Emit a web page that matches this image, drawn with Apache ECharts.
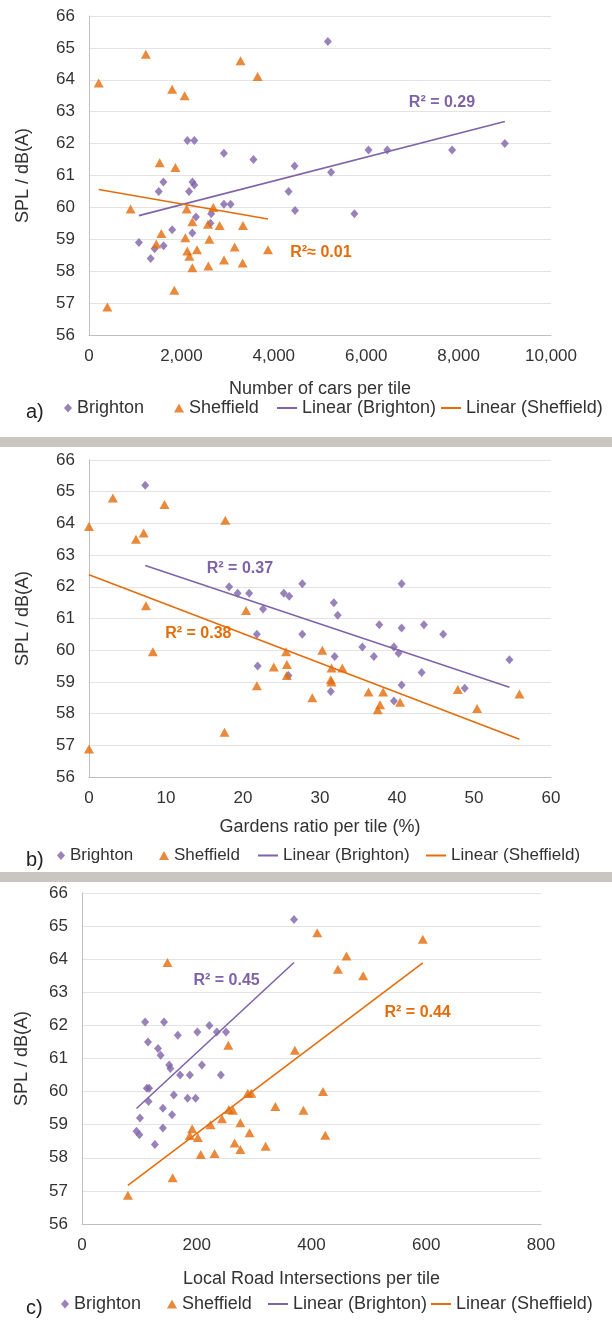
<!DOCTYPE html>
<html><head><meta charset="utf-8">
<script src="https://cdn.jsdelivr.net/npm/echarts@6/dist/echarts.min.js"></script>
<style>html,body{margin:0;padding:0;background:#fff}#c{width:612px;height:1320px}</style>
</head><body><div id="c"></div><script>
// ---------- DATA ----------
// Panel a: Number of cars per tile vs SPL
const carsBrighton = [[5170,65.2],[2130,62.1],[2280,62.1],[2920,61.7],[3560,61.5],[4450,61.3],[5240,61.1],[6050,61.8],[6455,61.8],[7860,61.8],[9000,62.0],[4320,60.5],[1610,60.8],[1510,60.5],[2240,60.8],[2280,60.7],[2165,60.5],[2920,60.1],[3065,60.1],[2315,59.7],[2645,59.8],[2630,59.5],[1800,59.3],[2237,59.2],[1080,58.9],[1615,58.8],[1420,58.7],[1335,58.4],[4460,59.9],[5745,59.8]];
const carsSheffield = [[210,63.9],[1230,64.8],[1800,63.7],[2070,63.5],[3280,64.6],[3650,64.1],[1530,61.4],[1870,61.25],[900,59.95],[2115,59.95],[2690,60.0],[2237,59.55],[2576,59.47],[2828,59.43],[3333,59.43],[1566,59.18],[2085,59.05],[2605,59.0],[1457,58.85],[3153,58.76],[2128,58.63],[2338,58.67],[2172,58.47],[3874,58.67],[2922,58.35],[3326,58.26],[2237,58.11],[2583,58.16],[1847,57.4],[397,56.88]];
// Panel b: Gardens ratio per tile (%) vs SPL
const gardensBrighton = [[7.3,65.2],[18.2,62.0],[19.3,61.8],[20.8,61.8],[22.6,61.3],[25.3,61.8],[26.0,61.7],[27.7,62.1],[31.8,61.5],[32.3,61.1],[40.6,62.1],[21.8,60.5],[27.7,60.5],[21.9,59.5],[25.9,59.2],[31.9,59.8],[31.4,58.7],[35.5,60.1],[37.0,59.8],[37.7,60.8],[39.6,60.1],[40.2,59.9],[40.6,60.7],[43.5,60.8],[43.2,59.3],[46.0,60.5],[40.6,58.9],[39.6,58.4],[48.8,58.8],[54.6,59.7]];
const gardensSheffield = [[0,63.9],[3.1,64.8],[6.1,63.5],[7.1,63.7],[9.8,64.6],[17.7,64.1],[7.4,61.4],[20.4,61.25],[30.3,60.0],[8.3,59.95],[25.6,59.95],[25.7,59.55],[24.0,59.47],[31.5,59.44],[32.9,59.44],[25.7,59.2],[31.4,59.07],[31.5,59.0],[21.8,58.88],[47.9,58.76],[36.3,58.68],[38.2,58.68],[55.9,58.62],[29.0,58.5],[40.4,58.36],[37.8,58.28],[50.4,58.16],[37.5,58.12],[17.6,57.41],[0,56.88]];
// Panel c: Local Road Intersections per tile vs SPL
const roadsBrighton = [[369.5,65.2],[110,62.1],[143,62.1],[222,62.0],[167,61.7],[201,61.8],[235,61.8],[251,61.8],[115,61.5],[132.5,61.3],[137,61.1],[152,60.8],[154,60.7],[209,60.8],[171,60.5],[188,60.5],[242,60.5],[113,60.1],[117,60.1],[116,59.7],[160,59.9],[184,59.8],[198,59.8],[141,59.5],[157,59.3],[101,59.2],[141,58.9],[95,58.8],[100,58.7],[127,58.4]];
const roadsSheffield = [[410,64.8],[594,64.6],[461,64.1],[149,63.9],[446,63.7],[490,63.5],[255,61.4],[371,61.25],[420,60.0],[289,59.95],[295,59.95],[337,59.55],[256,59.46],[263,59.44],[386,59.44],[244,59.18],[276,59.06],[224,59.0],[192,58.88],[292,58.76],[188,58.67],[424,58.68],[202,58.61],[266,58.45],[320,58.35],[276,58.25],[231,58.13],[207,58.1],[158,57.4],[80,56.87]];

const xAxisNames = ['Number of cars per tile','Gardens ratio per tile (%)','Local Road Intersections per tile'];
const xAxisMax = [10000, 60, 800];
const xAxisInterval = [2000, 10, 200];
const yAxisName = 'SPL / dB(A)';
const panelTags = ['a)','b)','c)'];
const legendNames = ['Brighton','Sheffield','Linear (Brighton)','Linear (Sheffield)'];
const r2Texts = [['R² = 0.29','R²≈ 0.01'],['R² = 0.37','R² = 0.38'],['R² = 0.45','R² = 0.44']];
// where the R² annotations sit, in data coordinates [x, SPL]
const r2Anchors = [[[7640,63.3],[5020,58.57]],[[19.6,62.56],[14.2,60.51]],[[252,63.34],[585,62.4]]];

// ---------- LAYOUT / STYLE ----------
const PURPLE = '#7F63A8', ORANGE = '#E46C0A';
const FONT = 'Liberation Sans, Arial, sans-serif';
const TXT = '#333';
const grids = [
  {left:89, top:16, width:462, height:319},
  {left:89, top:460, width:462, height:317},
  {left:82, top:893, width:459, height:331}
];
const legendY = [410, 858, 1306];
const legendLeft = [[64,174,277,441],[57,159,258,426],[61,167,268,431]];
const legendFont = [18, 17, 18];
const nameGapX = [45, 41, 46];
const nameGapY = [57, 57, 51];

function fitLine(pts){
  const n = pts.length;
  let sx=0, sy=0; pts.forEach(p=>{sx+=p[0]; sy+=p[1];});
  const mx=sx/n, my=sy/n;
  let sxy=0, sxx=0; pts.forEach(p=>{sxy+=(p[0]-mx)*(p[1]-my); sxx+=(p[0]-mx)*(p[0]-mx);});
  const b=sxy/sxx, a=my-b*mx;
  const xs=pts.map(p=>p[0]);
  const x0=Math.min(...xs), x1=Math.max(...xs);
  return [[x0,a+b*x0],[x1,a+b*x1]];
}

const datasets = [[carsBrighton,carsSheffield],[gardensBrighton,gardensSheffield],[roadsBrighton,roadsSheffield]];

const option = {
  animation:false,
  backgroundColor:'#fff',
  textStyle:{fontFamily:FONT},
  grid: grids,
  xAxis: grids.map((g,i)=>({
    gridIndex:i, type:'value', min:0, max:xAxisMax[i], interval:xAxisInterval[i],
    name:xAxisNames[i], nameLocation:'middle', nameGap:nameGapX[i],
    nameTextStyle:{fontSize:18, color:TXT, fontFamily:FONT},
    axisLine:{show:true, lineStyle:{color:'#BFBFBF', width:1}},
    axisTick:{show:false}, splitLine:{show:false},
    axisLabel:{fontSize:17, color:TXT, margin:13, fontFamily:FONT,
      formatter: v => String(v).replace(/\B(?=(\d{3})+(?!\d))/g, ',')}
  })),
  yAxis: grids.map((g,i)=>({
    gridIndex:i, type:'value', min:56, max:66, interval:1,
    name:yAxisName, nameLocation:'middle', nameGap:nameGapY[i],
    nameTextStyle:{fontSize:18, color:TXT, fontFamily:FONT},
    axisLine:{show:true, lineStyle:{color:'#BFBFBF', width:1}},
    axisTick:{show:false},
    splitLine:{show:true, lineStyle:{color:'#E3E3E3', width:1}},
    axisLabel:{fontSize:17, color:TXT, margin:14, fontFamily:FONT}
  })),
  title: panelTags.map((t,i)=>({text:t, left:21, top:legendY[i]-13,
    textStyle:{fontSize:20, fontWeight:'normal', color:'#222', fontFamily:FONT}})),
  legend: [],
  series: [],
  graphic: [
    {type:'rect', shape:{x:0, y:437, width:612, height:10}, style:{fill:'#C9C5BF'}},
    {type:'rect', shape:{x:0, y:872, width:612, height:10}, style:{fill:'#C9C5BF'}}
  ]
};

datasets.forEach((ds,i)=>{
  const colors=[PURPLE, ORANGE];
  option.series.push({name:legendNames[0], type:'scatter', xAxisIndex:i, yAxisIndex:i, data:ds[0],
    symbol:'diamond', symbolSize:[8,9], itemStyle:{color:PURPLE}, z:3});
  option.series.push({name:legendNames[1], type:'scatter', xAxisIndex:i, yAxisIndex:i, data:ds[1],
    symbol:'triangle', symbolSize:[10,9], itemStyle:{color:ORANGE}, z:3});
  [0,1].forEach(k=>{
    option.series.push({name:legendNames[2+k], type:'line', xAxisIndex:i, yAxisIndex:i,
      data:fitLine(ds[k]), showSymbol:false, symbol:'none',
      lineStyle:{color:colors[k], width:1.6}, itemStyle:{color:colors[k]}, z:2,
      markPoint:{symbol:'circle', symbolSize:0, silent:true,
        data:[{coord:r2Anchors[i][k], value:0,
          label:{show:true, position:'inside', formatter:r2Texts[i][k],
            color:colors[k], fontSize:16, fontWeight:'bold', fontFamily:FONT}}]}
    });
  });
  const icons=['diamond','triangle','rect','rect'];
  legendNames.forEach((nm,k)=>{
    const isLine = k>=2;
    option.legend.push({
      data:[{name:nm, icon:icons[k]}], left:legendLeft[i][k], top:legendY[i]-11,
      itemWidth: isLine?20:(k===0?8:10), itemHeight: isLine?2:9,
      selectedMode:false, padding:0,
      textStyle:{fontSize:legendFont[i], color:TXT, fontFamily:FONT}
    });
  });
});

const chart = echarts.init(document.getElementById('c'), null, {renderer:'canvas'});
chart.setOption(option);
</script></body></html>
